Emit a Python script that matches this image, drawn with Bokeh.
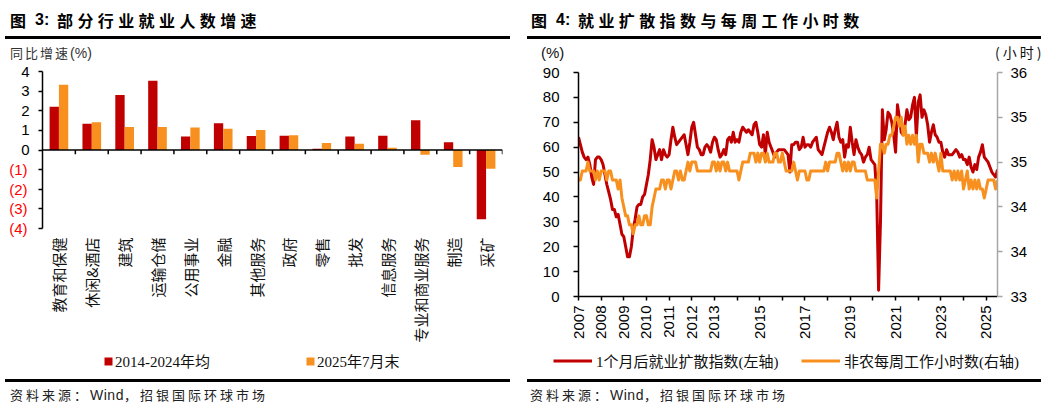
import math
import pandas as pd
from bokeh.plotting import figure
from bokeh.models import (ColumnDataSource, FactorRange, Range1d, LinearAxis, FixedTicker,
                          Span, Legend, LegendItem, Div)
from bokeh.transform import dodge
from bokeh.layouts import row, column
from bokeh.embed import file_html
from bokeh.resources import INLINE

# ---------------- data: chart 3 ----------------
industries = ["教育和保健", "休闲&酒店", "建筑", "运输仓储", "公用事业", "金融", "其他服务",
              "政府", "零售", "批发", "信息服务", "专业和商业服务", "制造", "采矿"]
avg_2014_2024 = [2.20, 1.34, 2.80, 3.53, 0.69, 1.36, 0.71, 0.73, 0.07, 0.69, 0.73, 1.51, 0.39, -3.53]
jul_2025 = [3.32, 1.42, 1.17, 1.17, 1.15, 1.08, 1.02, 0.75, 0.36, 0.32, 0.12, -0.24, -0.86, -0.95]
bar_ticks = [-4, -3, -2, -1, 0, 1, 2, 3, 4]
bar_series_names = ["2014-2024年均", "2025年7月末"]

# ---------------- data: chart 4 (monthly, from 2007-01) ----------------
start_month = "2007-01-01"
diffusion_idx = [
    64, 61, 58, 56, 55, 56, 53, 48, 45, 55, 56, 56,   # 2007
    55, 53, 49, 45, 42, 39, 35, 35, 32, 33, 29, 25,   # 2008
    24, 20, 16, 16, 20, 27, 31, 36, 37, 37, 40, 41,   # 2009
    45, 49, 55, 63, 60, 55, 57, 59, 55, 59, 57, 56,   # 2010
    57, 63, 68, 64, 61, 62, 63, 64, 65, 61, 57, 62,   # 2011
    68, 70, 65, 60, 59, 57, 57, 60, 61, 60, 58, 62,   # 2012
    64, 63, 59, 56, 57, 59, 57, 63, 64, 62, 66, 62,   # 2013
    63, 62, 66, 68, 67, 66, 67, 66, 65, 69, 70, 66,   # 2014
    61, 60, 65, 57, 66, 62, 60, 58, 56, 58, 59, 59,   # 2015
    59, 59, 58, 57, 50, 61, 61, 62, 62, 59, 60, 64,   # 2016
    60, 61, 61, 60, 62, 63, 64, 59, 58, 57, 60, 63,   # 2017
    66, 68, 66, 63, 67, 70, 64, 62, 63, 56, 61, 60,   # 2018
    68, 62, 57, 63, 60, 58, 57, 54, 56, 57, 60, 55,   # 2019
    54, 53, 41, 2.5, 30, 75, 63, 67, 74, 73, 70, 65,  # 2020
    58, 77, 72, 66, 65, 69, 75, 71, 72, 77, 80, 64,   # 2021
    78, 81, 72, 75, 73, 69, 62, 66, 69, 65, 64, 62,   # 2022
    62, 58, 56, 59, 57, 57, 57, 58, 59, 58, 56, 57,   # 2023
    55, 55, 53, 56, 52, 50, 53, 51, 56, 58, 61, 56,   # 2024
    55, 54, 52, 50, 49, 48, 51,                       # 2025
]
weekly_hours = [
    34.3, 34.3, 34.4, 34.4, 34.4, 34.5, 34.4, 34.4, 34.4, 34.3, 34.4, 34.3,  # 2007
    34.4, 34.4, 34.4, 34.3, 34.4, 34.4, 34.3, 34.3, 34.3, 34.2, 34.3, 34.1,  # 2008
    34.0, 33.9, 33.9, 33.8, 33.8, 33.7, 33.8, 33.8, 33.9, 33.8, 33.8, 33.9,  # 2009
    33.9, 33.8, 33.8, 34.0, 34.1, 34.2, 34.2, 34.2, 34.3, 34.3, 34.2, 34.3,  # 2010
    34.3, 34.2, 34.3, 34.4, 34.4, 34.3, 34.4, 34.3, 34.3, 34.4, 34.5, 34.4,  # 2011
    34.5, 34.5, 34.5, 34.4, 34.4, 34.4, 34.4, 34.4, 34.4, 34.4, 34.4, 34.5,  # 2012
    34.5, 34.4, 34.5, 34.4, 34.5, 34.5, 34.4, 34.5, 34.4, 34.4, 34.4, 34.4,  # 2013
    34.4, 34.3, 34.4, 34.5, 34.5, 34.5, 34.5, 34.6, 34.6, 34.6, 34.5, 34.6,  # 2014
    34.5, 34.6, 34.6, 34.5, 34.6, 34.5, 34.5, 34.5, 34.6, 34.6, 34.5, 34.5,  # 2015
    34.6, 34.5, 34.4, 34.4, 34.4, 34.4, 34.5, 34.4, 34.3, 34.4, 34.4, 34.4,  # 2016
    34.4, 34.3, 34.3, 34.4, 34.4, 34.4, 34.4, 34.4, 34.4, 34.4, 34.4, 34.5,  # 2017
    34.4, 34.5, 34.5, 34.5, 34.5, 34.6, 34.6, 34.5, 34.4, 34.5, 34.4, 34.5,  # 2018
    34.4, 34.5, 34.5, 34.4, 34.4, 34.4, 34.4, 34.4, 34.4, 34.3, 34.3, 34.3,  # 2019
    34.3, 34.3, 34.1, 34.4, 34.7, 34.7, 34.6, 34.7, 34.7, 34.8, 34.8, 34.9,  # 2020
    35.0, 35.0, 34.9, 35.0, 34.8, 34.9, 34.7, 34.8, 34.7, 34.8, 34.7, 34.8,  # 2021
    34.5, 34.7, 34.7, 34.6, 34.6, 34.6, 34.5, 34.6, 34.5, 34.6, 34.5, 34.4,  # 2022
    34.6, 34.4, 34.4, 34.4, 34.4, 34.4, 34.3, 34.4, 34.3, 34.4, 34.3, 34.4,  # 2023
    34.2, 34.3, 34.4, 34.2, 34.3, 34.2, 34.3, 34.2, 34.3, 34.2, 34.2, 34.1,  # 2024
    34.2, 34.3, 34.3, 34.3, 34.3, 34.2, 34.3,                                # 2025
]
line_series_names = ["1个月后就业扩散指数(左轴)", "非农每周工作小时数(右轴)"]
year_ticks = list(range(2007, 2026))
labelled_years = [2007, 2008, 2009, 2010, 2011, 2012, 2013, 2015, 2017, 2019, 2021, 2023, 2025]
pct_ticks = [0, 10, 20, 30, 40, 50, 60, 70, 80, 90]
hour_ticks = [33.0, 33.5, 34.0, 34.5, 35.0, 35.5]

# ---------------- styles ----------------
RED = "#C00000"
ORANGE = "#F7901E"
SANS = "Liberation Sans"
CJK = "Noto Sans CJK SC"
SERIF_MIX = "Liberation Serif, Noto Sans CJK SC"


def base_fig(**kw):
    p = figure(output_backend="svg", toolbar_location=None, outline_line_color=None,
               background_fill_color="white", border_fill_color="white", **kw)
    p.grid.grid_line_color = None
    return p


def style_axis(ax, color="black", tick_out=4, standoff=8, size="15px"):
    ax.major_label_text_font = SANS
    ax.major_label_text_font_size = size
    ax.major_label_text_color = "black"
    ax.axis_line_color = color
    ax.axis_line_width = 1.5
    ax.major_tick_line_color = color
    ax.major_tick_line_width = 1.5
    ax.major_tick_in = 0
    ax.major_tick_out = tick_out
    ax.minor_tick_line_color = None
    ax.major_label_standoff = standoff


def legend_strip(width, height):
    """A slim axis-less plot (own frame, not aligned) that only carries the legend."""
    s = base_fig(width=width, height=height, x_range=Range1d(0, 1), y_range=Range1d(10, 11),
                 x_axis_location=None, y_axis_location=None,
                 min_border_left=0, min_border_right=0, min_border_top=0, min_border_bottom=0)
    try:
        s.frame_align = False
    except AttributeError:
        pass
    return s


def make_legend(items, loc, spacing, glyph_w, glyph_h, standoff, label_w):
    return Legend(items=items, location=loc, orientation="horizontal",
                  border_line_color=None, background_fill_alpha=0, padding=0, margin=0,
                  spacing=spacing, glyph_width=glyph_w, glyph_height=glyph_h,
                  label_standoff=standoff, label_width=label_w, label_height=17,
                  label_text_font=SERIF_MIX, label_text_font_size="15px",
                  label_text_color="#111111")


# ================= chart 3: bars =================
p1 = base_fig(width=520, height=283, x_range=FactorRange(factors=industries),
              y_range=Range1d(bar_ticks[0], bar_ticks[-1]), min_border_left=42,
              min_border_right=18, min_border_top=9, min_border_bottom=116)
p1.x_range.range_padding = 0

src1 = ColumnDataSource(dict(ind=industries, a=avg_2014_2024, b=jul_2025))
p1.vbar(x=dodge("ind", -0.142, range=p1.x_range), top="a", width=0.284,
        source=src1, fill_color=RED, line_color=None)
p1.vbar(x=dodge("ind", 0.142, range=p1.x_range), top="b", width=0.284,
        source=src1, fill_color=ORANGE, line_color=None)

# zero line with ticks at category boundaries
p1.add_layout(Span(location=0, dimension="width", line_color="black", line_width=1.5))
bounds = list(range(1, len(industries) + 1))
p1.segment(x0=bounds, y0=[0] * len(bounds), x1=bounds, y1=[-0.22] * len(bounds),
           line_color="black", line_width=1.5)

ya = p1.yaxis[0]
ya.ticker = FixedTicker(ticks=bar_ticks)
ya.major_label_overrides = {t: (str(t) if t >= 0 else "") for t in bar_ticks}
style_axis(ya, tick_out=4, standoff=9)

ya_neg = LinearAxis(ticker=FixedTicker(ticks=bar_ticks),
                    major_label_overrides={t: ("(%d)" % (-t) if t < 0 else "") for t in bar_ticks})
style_axis(ya_neg, tick_out=0, standoff=-9)
ya_neg.axis_line_color = None
ya_neg.major_tick_line_color = None
ya_neg.major_label_text_color = "#FF0000"
p1.add_layout(ya_neg, "left")

xa = p1.xaxis[0]
xa.major_label_orientation = math.pi / 2
xa.axis_line_color = None
xa.major_tick_line_color = None
xa.minor_tick_line_color = None
xa.major_label_standoff = 3
xa.major_label_text_font = CJK
xa.major_label_text_font_size = "15px"
xa.major_label_text_color = "#111111"

# legend strip: renderers share the chart's data but fall outside the strip's view
s1 = legend_strip(520, 27)
lb1 = s1.vbar(x="a", top="a", width=0.1, source=src1, fill_color=RED, line_color=None)
lb2 = s1.vbar(x="b", top="b", width=0.1, source=src1, fill_color=ORANGE, line_color=None)
s1.add_layout(make_legend([LegendItem(label=bar_series_names[0], renderers=[lb1]),
                           LegendItem(label=bar_series_names[1], renderers=[lb2])],
                          loc=(103, 1), spacing=66, glyph_w=10, glyph_h=10,
                          standoff=2, label_w=124))

# ================= chart 4: lines =================
months = pd.date_range(start_month, periods=len(diffusion_idx), freq="MS")
xs = list(months.year + (months.month - 1) / 12.0)

p2 = base_fig(width=528, height=283, x_range=Range1d(xs[0], xs[-1]),
              y_range=Range1d(pct_ticks[0], pct_ticks[-1]),
              min_border_left=58, min_border_right=51, min_border_top=10, min_border_bottom=49)
p2.extra_y_ranges = {"hours": Range1d(hour_ticks[0], hour_ticks[-1])}

src2 = ColumnDataSource(dict(x=xs, d=diffusion_idx, h=weekly_hours))
p2.line("x", "d", source=src2, line_color=RED, line_width=3, line_join="round")
p2.line("x", "h", source=src2, y_range_name="hours", line_color=ORANGE,
        line_width=3, line_join="round")

la = p2.yaxis[0]
la.ticker = FixedTicker(ticks=pct_ticks)
style_axis(la, tick_out=5, standoff=14)

ra = LinearAxis(y_range_name="hours", ticker=FixedTicker(ticks=hour_ticks),
                major_label_overrides={t: str(int(t + 0.5)) for t in hour_ticks})
style_axis(ra, color="#A6A6A6", tick_out=5, standoff=8)
p2.add_layout(ra, "right")

xa2 = p2.xaxis[0]
xa2.ticker = FixedTicker(ticks=year_ticks)
xa2.major_label_overrides = {y: (str(y) if y in labelled_years else "") for y in year_ticks}
style_axis(xa2, tick_out=4, standoff=5)
xa2.major_label_orientation = math.pi / 2

s2 = legend_strip(528, 27)
ll1 = s2.line("x", "d", source=src2, line_color=RED, line_width=3)
ll2 = s2.line("x", "h", source=src2, line_color=ORANGE, line_width=3)
s2.add_layout(make_legend([LegendItem(label=line_series_names[0], renderers=[ll1]),
                           LegendItem(label=line_series_names[1], renderers=[ll2])],
                          loc=(33, 1), spacing=10, glyph_w=39, glyph_h=15,
                          standoff=4, label_w=195))

# ================= headers / footers (HTML) =================
def header(width, num, title, line_left, line_width, num_left, notes):
    base = "position:absolute;white-space:nowrap;"
    html = ('<div style="position:relative;width:%dpx;height:62px;color:#000;">' % width)
    html += ('<span style="%sleft:%dpx;top:12px;font:bold 16px/16px \'%s\';">图</span>'
             % (base, num_left, CJK))
    html += ('<span style="%sleft:%dpx;top:12px;font:bold 16px/16px \'%s\';">%s:</span>'
             % (base, num_left + 25, SANS, num))
    html += ('<span style="%sleft:%dpx;top:12px;font:bold 16px/16px \'%s\';letter-spacing:4.4px;">%s</span>'
             % (base, num_left + 47, CJK, title))
    html += ('<div style="position:absolute;left:%dpx;top:36px;width:%dpx;height:3px;background:#000;"></div>'
             % (line_left, line_width))
    html += notes
    html += '</div>'
    return Div(text=html, width=width, height=62, margin=0)


def footer(width, line_left, line_width, text_left):
    html = ('<div style="position:relative;width:%dpx;height:41px;color:#000;">' % width)
    html += ('<div style="position:absolute;left:%dpx;top:7px;width:%dpx;height:3px;background:#000;"></div>'
             % (line_left, line_width))
    html += ('<span style="position:absolute;white-space:nowrap;left:%dpx;top:15px;'
             'font:13px/16px \'%s\';letter-spacing:3px;color:#222;">资料来源：'
             '<span style="font-family:\'%s\';font-size:14px;letter-spacing:0.5px;">Wind</span>，招银国际环球市场</span>'
             % (text_left, CJK, SANS))
    html += '</div>'
    return Div(text=html, width=width, height=41, margin=0)


note1 = ('<span style="position:absolute;white-space:nowrap;left:10px;top:45px;'
         'font:13px/15px \'%s\';letter-spacing:2px;color:#333;">同比增速'
         '<span style="font-family:\'%s\';font-size:14px;letter-spacing:0;">(%%)</span></span>'
         % (CJK, SANS))
note2 = ('<span style="position:absolute;white-space:nowrap;left:21px;top:45px;'
         'font:15px/15px \'%s\';color:#111;">(%%)</span>' % SANS)
note2 += ('<span style="position:absolute;white-space:nowrap;left:475px;top:45px;'
          'font:14px/15px \'%s\';letter-spacing:3px;color:#111;">(小时)</span>' % CJK)

h1 = header(520, "3", "部分行业就业人数增速", 5, 505, 10, note1)
h2 = header(528, "4", "就业扩散指数与每周工作小时数", 7, 514, 11, note2)
f1 = footer(520, 5, 505, 10)
f2 = footer(528, 7, 514, 10)

layout = row(column(h1, p1, s1, f1, spacing=0), column(h2, p2, s2, f2, spacing=0), spacing=0)

open("out.html", "w").write(file_html(layout, INLINE))
